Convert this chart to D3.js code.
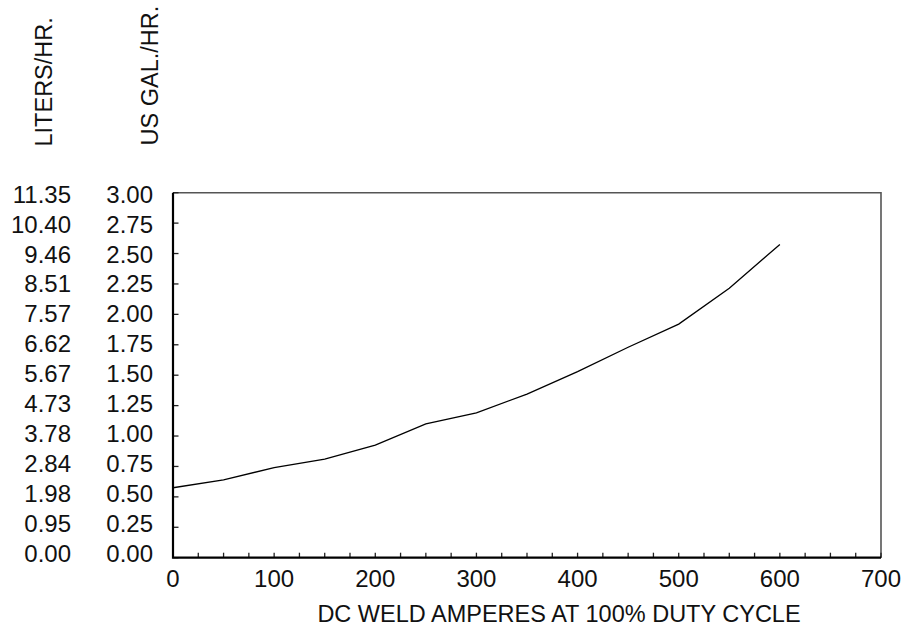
<!DOCTYPE html>
<html>
<head>
<meta charset="utf-8">
<script src="https://cdn.jsdelivr.net/npm/d3@7"></script>
<style>
  html, body { margin: 0; padding: 0; background: #fff; }
  svg { display: block; }
  text { font-family: "Liberation Sans", Arial, Helvetica, sans-serif; fill: #111; }
</style>
</head>
<body>
<svg id="chart" width="907" height="628"></svg>
<script>
// ---- data ----
const amperes = [0, 50, 100, 150, 200, 250, 300, 350, 400, 450, 500, 550, 600];
const gallonsPerHour = [0.575, 0.64, 0.74, 0.81, 0.925, 1.10, 1.19, 1.345, 1.53, 1.73, 1.92, 2.215, 2.575];
const gallonTicks = [0, 0.25, 0.5, 0.75, 1.0, 1.25, 1.5, 1.75, 2.0, 2.25, 2.5, 2.75, 3.0];
const gallonLabels = ["0.00","0.25","0.50","0.75","1.00","1.25","1.50","1.75","2.00","2.25","2.50","2.75","3.00"];
const literLabels = ["0.00","0.95","1.98","2.84","3.78","4.73","5.67","6.62","7.57","8.51","9.46","10.40","11.35"];
const xMajorTicks = [0, 100, 200, 300, 400, 500, 600, 700];
const xMinorTicks = d3.range(0, 701, 25);
const xTitle = "DC WELD AMPERES AT 100% DUTY CYCLE";
const literTitle = "LITERS/HR.";
const gallonTitle = "US GAL./HR.";

// ---- layout ----
const svg = d3.select("#chart");
const L = 173, R = 881, T = 192.7, B = 557.7;
const x = d3.scaleLinear().domain([0, 700]).range([L, R]);
const y = d3.scaleLinear().domain([0, 3]).range([B, T]);
const yLabel = d3.scaleLinear().domain([0, 3]).range([561.5, 202.7]);
const fs = 24;

// frame: top and right (gray)
svg.append("path")
  .attr("d", `M${L},${T} H${R} V${B}`)
  .attr("fill", "none").attr("stroke", "#555").attr("stroke-width", 1.6);

// ticks
svg.append("g").selectAll("line").data(gallonTicks).join("line")
  .attr("x1", L).attr("x2", L + 5.5)
  .attr("y1", d => y(d)).attr("y2", d => y(d))
  .attr("stroke", "#222").attr("stroke-width", 1.3);
svg.append("g").selectAll("line").data(xMinorTicks).join("line")
  .attr("x1", d => x(d)).attr("x2", d => x(d))
  .attr("y1", B).attr("y2", B - 5)
  .attr("stroke", "#222").attr("stroke-width", 1.3);

// left & bottom axes (black)
svg.append("path")
  .attr("d", `M${L},${T} V${B} H${R}`)
  .attr("fill", "none").attr("stroke", "#000").attr("stroke-width", 2.2);

// curve
const line = d3.line().x((d, i) => x(amperes[i])).y(d => y(d));
svg.append("path").datum(gallonsPerHour)
  .attr("d", line)
  .attr("fill", "none").attr("stroke", "#000").attr("stroke-width", 1.3);

// gallon labels
svg.append("g").selectAll("text").data(gallonTicks).join("text")
  .attr("x", 153).attr("y", d => yLabel(d))
  .attr("text-anchor", "end").attr("font-size", fs)
  .text((d, i) => gallonLabels[i]);
// liter labels
svg.append("g").selectAll("text").data(gallonTicks).join("text")
  .attr("x", 71).attr("y", d => yLabel(d))
  .attr("text-anchor", "end").attr("font-size", fs)
  .text((d, i) => literLabels[i]);

// x labels
svg.append("g").selectAll("text").data(xMajorTicks).join("text")
  .attr("x", d => x(d)).attr("y", 587)
  .attr("text-anchor", "middle").attr("font-size", fs)
  .text(d => d);

// titles
svg.append("text").attr("x", 559).attr("y", 621.7)
  .attr("text-anchor", "middle").attr("font-size", 23.5).text(xTitle);
svg.append("text").attr("transform", "translate(51.5,146.5) rotate(-90)")
  .attr("text-anchor", "start").attr("font-size", 23.5).text(literTitle);
svg.append("text").attr("transform", "translate(157.5,145.5) rotate(-90)")
  .attr("text-anchor", "start").attr("font-size", 23.5).text(gallonTitle);
</script>
</body>
</html>
